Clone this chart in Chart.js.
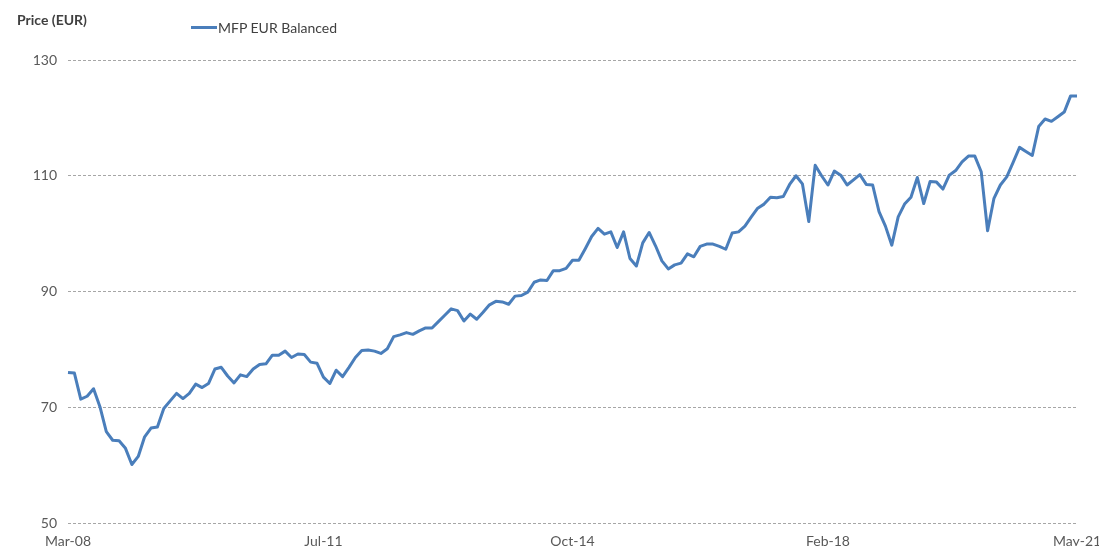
<!DOCTYPE html>
<html>
<head>
<meta charset="utf-8">
<script src="https://cdn.jsdelivr.net/npm/chart.js@4/dist/chart.umd.min.js"></script>
<style>
  html, body { margin: 0; padding: 0; background: #ffffff; }
  #wrap { position: relative; width: 1099px; height: 546px; overflow: hidden; }
  #c { position: absolute; left: 0; top: 0; }
  .t { position: absolute; font-family: Lato, "Open Sans", sans-serif; font-size: 14px; line-height: 16px; color: #404040; white-space: nowrap; }
  #ytitle { left: 17px; top: 12px; font-weight: bold; }
  #legline { position: absolute; left: 191px; top: 26px; width: 26px; height: 3px; background: #4a7ebb; }
  #legtext { left: 218px; top: 20px; }
</style>
</head>
<body>
<div id="wrap">
  <canvas id="c" width="1099" height="546"></canvas>
  <div class="t" id="ytitle">Price (EUR)</div>
  <div id="legline"></div>
  <div class="t" id="legtext">MFP EUR Balanced</div>
</div>
<script>
// Monthly categories Mar-08 .. May-21
const monthNames = ['Jan','Feb','Mar','Apr','May','Jun','Jul','Aug','Sep','Oct','Nov','Dec'];
const startYear = 2008, startMonth = 2, monthCount = 159;
const categories = [];
for (let i = 0; i < monthCount; i++) {
  const m = (startMonth + i) % 12;
  const y = startYear + Math.floor((startMonth + i) / 12);
  categories.push(monthNames[m] + '-' + String(y % 100).padStart(2, '0'));
}

// Series values
const seriesName = 'MFP EUR Balanced';
const prices = [
  76.0, 75.9, 71.4, 71.9, 73.2, 70.1, 65.8, 64.3, 64.2, 62.9,
  60.1, 61.5, 64.9, 66.4, 66.6, 69.8, 71.1, 72.4, 71.5, 72.4,
  74.0, 73.4, 74.1, 76.6, 76.9, 75.4, 74.2, 75.6, 75.3, 76.6,
  77.4, 77.5, 79.0, 79.0, 79.7, 78.6, 79.2, 79.1, 77.8, 77.6,
  75.2, 74.1, 76.4, 75.3, 76.9, 78.6, 79.8, 79.9, 79.7, 79.3,
  80.1, 82.2, 82.5, 82.9, 82.6, 83.2, 83.7, 83.7, 84.8, 85.9,
  87.0, 86.7, 84.9, 86.1, 85.2, 86.4, 87.7, 88.3, 88.2, 87.8,
  89.2, 89.3, 89.9, 91.6, 92.0, 91.9, 93.6, 93.6, 94.0, 95.4,
  95.4, 97.4, 99.5, 100.9, 99.9, 100.3, 97.6, 100.3, 95.7, 94.4,
  98.4, 100.2, 97.9, 95.3, 93.9, 94.6, 94.9, 96.5, 96.0, 97.8,
  98.2, 98.2, 97.8, 97.3, 100.1, 100.3, 101.3, 102.9, 104.4, 105.1,
  106.3, 106.2, 106.4, 108.5, 110.0, 108.6, 102.1, 111.8, 110.0, 108.4,
  110.8, 110.1, 108.4, 109.3, 110.2, 108.5, 108.4, 103.8, 101.3, 98.0,
  102.9, 105.1, 106.3, 109.7, 105.2, 109.0, 108.9, 107.7, 110.1, 110.9,
  112.4, 113.4, 113.4, 110.7, 100.5, 106.1, 108.4, 109.8, 112.3, 114.9,
  114.2, 113.5, 118.5, 119.8, 119.4, 120.2, 121.0, 123.8, 123.8
];

// Axis tick labels shown
const xTickLabels = ['Mar-08', 'Jul-11', 'Oct-14', 'Feb-18', 'May-21'];
const yMin = 50, yMax = 130, yStep = 20;

const tickFont = { family: 'Lato, "Open Sans", sans-serif', size: 14 };

new Chart(document.getElementById('c'), {
  type: 'line',
  data: {
    labels: categories,
    datasets: [{
      label: seriesName,
      data: prices,
      borderColor: '#4a7ebb',
      backgroundColor: '#4a7ebb',
      borderWidth: 3,
      pointRadius: 0,
      tension: 0,
      fill: false,
      borderJoinStyle: 'round',
      borderCapStyle: 'butt'
    }]
  },
  options: {
    responsive: false,
    animation: false,
    devicePixelRatio: 1,
    layout: { padding: { left: 0, right: 22, top: 60, bottom: 0 } },
    plugins: {
      legend: { display: false },
      title: { display: false },
      tooltip: { enabled: false }
    },
    scales: {
      x: {
        type: 'category',
        offset: false,
        grid: { display: false, drawTicks: false },
        border: { display: false },
        afterFit: (s) => { s.height = 23; s.paddingLeft = 0; s.paddingRight = 0; },
        ticks: {
          autoSkip: false,
          maxRotation: 0,
          minRotation: 0,
          padding: 10,
          color: '#595959',
          font: tickFont,
          callback: function (val, idx) {
            const lab = categories[idx];
            return xTickLabels.includes(lab) ? lab : '';
          }
        }
      },
      y: {
        min: yMin,
        max: yMax,
        afterFit: (s) => { s.width = 68; },
        grid: { color: '#a6a6a6', lineWidth: 1, drawTicks: false },
        border: { display: false, dash: [3, 2] },
        ticks: {
          stepSize: yStep,
          padding: 11,
          color: '#595959',
          font: tickFont
        }
      }
    }
  }
});
</script>
</body>
</html>
